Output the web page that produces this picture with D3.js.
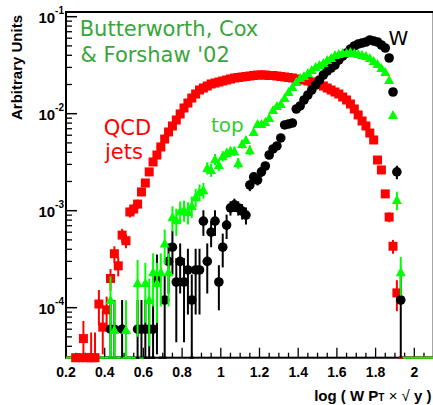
<!DOCTYPE html>
<html>
<head>
<meta charset="utf-8">
<script src="https://cdn.jsdelivr.net/npm/d3@7"></script>
<style>
body { margin: 0; background: #fff; }
svg { display: block; }
</style>
</head>
<body>
<svg id="chart" width="433" height="405"></svg>
<script>
// bin centres of log(W pT x sqrt(y))
var bins = [0.21,0.23,0.25,0.27,0.29,0.31,0.33,0.35,0.37,0.39,
    0.41,0.43,0.45,0.47,0.49,0.51,0.53,0.55,0.57,0.59,
    0.61,0.63,0.65,0.67,0.69,0.71,0.73,0.75,0.77,0.79,
    0.81,0.83,0.85,0.87,0.89,0.91,0.93,0.95,0.97,0.99,
    1.01,1.03,1.05,1.07,1.09,1.11,1.13,1.15,1.17,1.19,
    1.21,1.23,1.25,1.27,1.29,1.31,1.33,1.35,1.37,1.39,
    1.41,1.43,1.45,1.47,1.49,1.51,1.53,1.55,1.57,1.59,
    1.61,1.63,1.65,1.67,1.69,1.71,1.73,1.75,1.77,1.79,
    1.81,1.83,1.85,1.87,1.89,1.91,1.93,1.95,1.97,1.99,
    2.01,2.03,2.05,2.07,2.09]

// QCD jets (red squares)
var qcdValues = [0,0,3.05e-5,3.05e-5,4.8e-5,3.05e-5,3.05e-5,3.05e-5,1.09e-4,6.3e-5,
    9.5e-5,2.0e-4,3.6e-4,2.7e-4,5.6e-4,4.9e-4,9.7e-4,1.04e-3,1.17e-3,1.56e-3,
    1.93e-3,2.51e-3,3.18e-3,3.75e-3,4.54e-3,5.48e-3,6.48e-3,7.47e-3,8.61e-3,9.93e-3,
    0.01145,0.01289,0.01451,0.01596,0.01755,0.0184,0.0193,0.02024,0.02072,0.02122,
    0.02173,0.02225,0.02279,0.02333,0.02361,0.0239,0.02418,0.02447,0.02476,0.02506,
    0.02506,0.02506,0.02476,0.02476,0.02447,0.02418,0.0239,0.02361,0.02333,0.02279,
    0.02252,0.02225,0.02173,0.02122,0.02072,0.0200,0.0193,0.0184,0.01755,0.01674,
    0.01596,0.01486,0.01384,0.01259,0.01118,0.0097,0.00841,0.00747,0.00632,0.00536,
    0.00333,0.00263,0.00149,0.00086,0.00043,0.000142,0,0,0,0,
    0,0,0,0,0]
var qcdErrors = [0,0,0,0,2.5e-5,0,2.5e-5,2.5e-5,4.3e-5,3e-5,
    3.5e-5,5e-5,7e-5,6e-5,9e-5,8e-5,1.2e-4,1.3e-4,1.3e-4,1.5e-4,
    0,0,0,0,0,0,0,0,0,0,
    0,0,0,0,0,0,0,0,0,0,
    0,0,0,0,0,0,0,0,0,0,
    0,0,0,0,0,0,0,0,0,0,
    0,0,0,0,0,0,0,0,0,0,
    0,0,0,0,0,0,0,0,0,0,
    0,0,0,1e-4,7e-5,5e-5,0,0,0,0,
    0,0,0,0,0]

// top (green triangles)
var topValues = [0,0,0,0,0,0,0,0,0,0,
    0,1.2e-4,5.9e-5,0,0,5.9e-5,0,0,1.8e-4,0,
    1.8e-4,1.2e-4,2.33e-4,1.8e-4,2.33e-4,4.6e-4,2.33e-4,8.6e-4,8.0e-4,9.9e-4,
    1.02e-3,9.7e-4,1.12e-3,1.38e-3,1.56e-3,1.63e-3,2.76e-3,2.63e-3,3.40e-3,2.96e-3,
    3.66e-3,3.94e-3,4.12e-3,4.12e-3,3.10e-3,4.88e-3,5.36e-3,4.22e-3,6.48e-3,7.83e-3,
    7.83e-3,8.21e-3,9.03e-3,0.01091,0.01201,0.01259,0.01451,0.01674,0.01885,0.02122,
    0.02333,0.02447,0.0263,0.02822,0.0303,0.03178,0.03332,0.03578,0.03751,0.04028,
    0.04124,0.04223,0.04223,0.04325,0.04223,0.04124,0.04028,0.03934,0.03751,0.03494,
    0.03254,0.02959,0.02691,0.02225,0.0097,0.00129,2.33e-4,0,0,0,
    0,0,0,0,0]
var topErrors = [0,0,0,0,0,0,0,0,0,0,
    0,9e-5,6e-5,0,0,6e-5,0,0,1.3e-4,0,
    1.1e-4,8e-5,1.3e-4,1.1e-4,1.3e-4,1.8e-4,1.3e-4,2.5e-4,2.5e-4,2.5e-4,
    2.5e-4,2.5e-4,2.8e-4,3e-4,3e-4,3e-4,4e-4,4e-4,4.5e-4,4e-4,
    4.5e-4,4.5e-4,4.5e-4,4.5e-4,4e-4,5e-4,5e-4,5e-4,5e-4,0,
    0,0,0,0,0,0,0,0,0,0,
    0,0,0,0,0,0,0,0,0,0,
    0,0,0,0,0,0,0,0,0,0,
    0,0,0,0,0,2.8e-4,1.0e-4,0,0,0,
    0,0,0,0,0]

// W (black circles)
var wValues = [0,0,0,0,0,0,0,0,0,0,
    0,6.0e-5,6.0e-5,0,6.0e-5,0,0,0,6.0e-5,6.0e-5,
    6.0e-5,6.0e-5,6.0e-5,1.93e-4,0,1.2e-4,3.0e-4,4.2e-4,1.84e-4,3.0e-4,
    1.84e-4,2.45e-4,1.2e-4,2.45e-4,2.45e-4,7.8e-4,3.0e-4,6.0e-4,7.8e-4,1.84e-4,
    4.2e-4,7.1e-4,1.07e-3,1.15e-3,1.07e-3,9.9e-4,9.0e-4,1.84e-3,2.23e-3,2.07e-3,
    2.51e-3,2.89e-3,3.75e-3,4.33e-3,4.65e-3,5.62e-3,7.65e-3,7.83e-3,8.02e-3,0.01118,
    0.01201,0.01384,0.01559,0.01755,0.01976,0.02225,0.02506,0.02756,0.02959,0.03178,
    0.03578,0.03934,0.04223,0.04645,0.04987,0.0523,0.05355,0.05484,0.05752,0.05616,
    0.05484,0.05107,0.04756,0.03751,0.01674,0.00251,1.2e-4,0,0,0,
    0,0,0,0,0]
var wErrors = [0,0,0,0,0,0,0,0,0,0,
    0,6e-5,6e-5,0,6e-5,0,0,0,6e-5,6e-5,
    6e-5,6e-5,6e-5,1.6e-4,0,1.0e-4,1.6e-4,2.0e-4,1.4e-4,1.6e-4,
    1.4e-4,1.6e-4,1.0e-4,1.6e-4,1.6e-4,2.3e-4,1.6e-4,1.8e-4,2.3e-4,9e-5,
    1.6e-4,2.0e-4,1.8e-4,1.8e-4,1.8e-4,1.8e-4,1.8e-4,2.5e-4,2.5e-4,2.5e-4,
    3e-4,3e-4,3.5e-4,3.5e-4,3.5e-4,4e-4,0,0,0,0,
    0,0,0,0,0,0,0,0,0,0,
    0,0,0,0,0,0,0,0,0,0,
    0,0,0,0,0,4e-4,1.0e-4,0,0,0,
    0,0,0,0,0]

var xMajorTicks = [0.2,0.4,0.6,0.8,1,1.2,1.4,1.6,1.8,2]
var xTickLabels = ["0.2","0.4","0.6","0.8","1","1.2","1.4","1.6","1.8","2"]
var yDecades = [1e-1,1e-2,1e-3,1e-4]
var yDecadeExponents = ["-1","-2","-3","-4"]

var svg = d3.select('#chart')
var plotLeft = 66, plotTop = 12, plotRight = 433.65, plotBottom = 357.7
var binHalf = 0.01

var xScale = d3.scaleLinear().domain([0.2, 2.1]).range([plotLeft, plotRight])
var yScale = d3.scaleLog().domain([3.05e-5, 0.1118]).range([plotBottom, plotTop])
var yMin = yScale.domain()[0]

// frame
svg.append('rect')
    .attr('x', plotLeft).attr('y', plotTop)
    .attr('width', plotRight - plotLeft).attr('height', plotBottom - plotTop)
    .attr('fill', 'none').attr('stroke', '#000').attr('stroke-width', 2)

// x ticks (inside, pointing up)
var xMinor = d3.range(0.2, 2.1001, 0.05)
svg.append('g').selectAll('line')
    .data(xMinor)
    .enter()
    .append('line')
    .attr('x1', d => xScale(d)).attr('x2', d => xScale(d))
    .attr('y1', plotBottom)
    .attr('y2', d => xMajorTicks.some(t => Math.abs(t - d) < 1e-6) ? plotBottom - 10 : plotBottom - 5)
    .attr('stroke', '#000').attr('stroke-width', 1.3)

svg.append('g').selectAll('text')
    .data(xMajorTicks)
    .enter()
    .append('text')
    .attr('x', d => xScale(d))
    .attr('y', 377)
    .attr('text-anchor', 'middle')
    .style('font', 'bold 14px "Liberation Sans", Arial, sans-serif')
    .text((d, i) => xTickLabels[i])

// y ticks (log, inside)
var yMinor = []
for (var e = -5; e <= -1; e++) {
    for (var k = 2; k <= 9; k++) {
        var v = k * Math.pow(10, e)
        if (v >= yScale.domain()[0] && v <= yScale.domain()[1]) yMinor.push(v)
    }
}
svg.append('g').selectAll('line')
    .data(yMinor)
    .enter()
    .append('line')
    .attr('x1', plotLeft).attr('x2', plotLeft + 6)
    .attr('y1', d => yScale(d)).attr('y2', d => yScale(d))
    .attr('stroke', '#000').attr('stroke-width', 1.3)

svg.append('g').selectAll('line')
    .data(yDecades)
    .enter()
    .append('line')
    .attr('x1', plotLeft).attr('x2', plotLeft + 11)
    .attr('y1', d => yScale(d)).attr('y2', d => yScale(d))
    .attr('stroke', '#000').attr('stroke-width', 1.5)

var yLabels = svg.append('g').selectAll('text')
    .data(yDecades)
    .enter()
    .append('text')
    .attr('x', 64)
    .attr('y', d => yScale(d) + 6.5)
    .attr('text-anchor', 'end')
    .style('font', 'bold 15px "Liberation Sans", Arial, sans-serif')
yLabels.append('tspan').text('10')
yLabels.append('tspan').attr('dy', -9).style('font-size', '10px').text((d, i) => yDecadeExponents[i])

// axis titles
svg.append('text')
    .attr('transform', 'translate(21.5,15) rotate(-90)')
    .attr('text-anchor', 'end')
    .style('font', 'bold 15px "Liberation Sans", Arial, sans-serif')
    .text('Arbitrary Units')

var xTitle = svg.append('text')
    .attr('x', 431.5).attr('y', 400.5)
    .attr('text-anchor', 'end')
    .style('font', 'bold 15px "Liberation Sans", Arial, sans-serif')
xTitle.append('tspan').text('log ( W P')
xTitle.append('tspan').style('font-size', '10px').text('T')
xTitle.append('tspan').text(' ')
xTitle.append('tspan').style('font-weight', 'normal').text('\u00d7')
xTitle.append('tspan').text(' ')
xTitle.append('tspan').style('font-weight', 'normal').text('\u221a')
xTitle.append('tspan').text(' y )')

// series
function makeSeries(values, errors, color, marker) {
    return bins.map((b, i) => ({ x: b, v: values[i], err: errors[i], color: color, marker: marker }))
}
var qcd = makeSeries(qcdValues, qcdErrors, '#ff0000', 'square')
var top_ = makeSeries(topValues, topErrors, '#00ff00', 'triangle')
var wSeries = makeSeries(wValues, wErrors, '#000000', 'circle')

// bins sitting on the floor are drawn as a line along the bottom
function drawFloor(data) {
    svg.append('g').selectAll('line')
        .data(data.filter(d => d.v <= 0 || d.v - d.err <= yMin))
        .enter()
        .append('line')
        .attr('x1', d => xScale(d.x - binHalf)).attr('x2', d => xScale(d.x + binHalf))
        .attr('y1', plotBottom).attr('y2', plotBottom)
        .attr('stroke', d => d.color).attr('stroke-width', 2.2)
}
drawFloor(wSeries)
drawFloor(qcd)
drawFloor(top_)

function drawPoints(data) {
    var pts = data.filter(d => d.v > 0)
    var g = svg.append('g')
    g.selectAll('line')
        .data(pts.filter(d => d.err > 0))
        .enter()
        .append('line')
        .attr('x1', d => xScale(d.x)).attr('x2', d => xScale(d.x))
        .attr('y1', d => yScale(d.v + d.err))
        .attr('y2', d => yScale(Math.max(d.v - d.err, yMin)))
        .attr('stroke', d => d.color).attr('stroke-width', 2)

    var m = g.selectAll('.mk')
        .data(pts)
        .enter()
    if (pts.length && pts[0].marker == 'square') {
        m.append('rect').classed('mk', true)
            .attr('x', d => xScale(d.x) - 4.5).attr('y', d => yScale(d.v) - 4.5)
            .attr('width', 9).attr('height', 9)
            .attr('fill', d => d.color)
    } else if (pts.length && pts[0].marker == 'circle') {
        m.append('circle').classed('mk', true)
            .attr('cx', d => xScale(d.x)).attr('cy', d => yScale(d.v))
            .attr('r', 4.8)
            .attr('fill', d => d.color)
    } else {
        m.append('path').classed('mk', true)
            .attr('transform', d => 'translate(' + xScale(d.x) + ',' + yScale(d.v) + ')')
            .attr('d', 'M0,-5L5,4.1L-5,4.1Z')
            .attr('fill', d => d.color)
    }
}
drawPoints(qcd)
drawPoints(wSeries)
drawPoints(top_)

// annotations
svg.append('text').attr('x', 79.7).attr('y', 36)
    .style('font', '21px "DejaVu Sans", sans-serif').attr('fill', '#3aa53a')
    .text('Butterworth, Cox')
svg.append('text').attr('x', 80.5).attr('y', 61.7)
    .style('font', '21px "DejaVu Sans", sans-serif').attr('fill', '#3aa53a')
    .text("& Forshaw '02")
svg.append('text').attr('x', 103.8).attr('y', 135)
    .style('font', '21px "DejaVu Sans", sans-serif').attr('fill', '#ff0000')
    .text('QCD')
svg.append('text').attr('x', 105).attr('y', 159)
    .style('font', '21px "DejaVu Sans", sans-serif').attr('fill', '#ff0000')
    .text('jets')
svg.append('text').attr('x', 211).attr('y', 131.7)
    .style('font', '20px "DejaVu Sans", sans-serif').attr('fill', '#33cc33')
    .text('top')
svg.append('text').attr('x', 388.5).attr('y', 45)
    .style('font', '20px "DejaVu Sans", sans-serif').attr('fill', '#000')
    .text('W')
</script>
</body>
</html>
